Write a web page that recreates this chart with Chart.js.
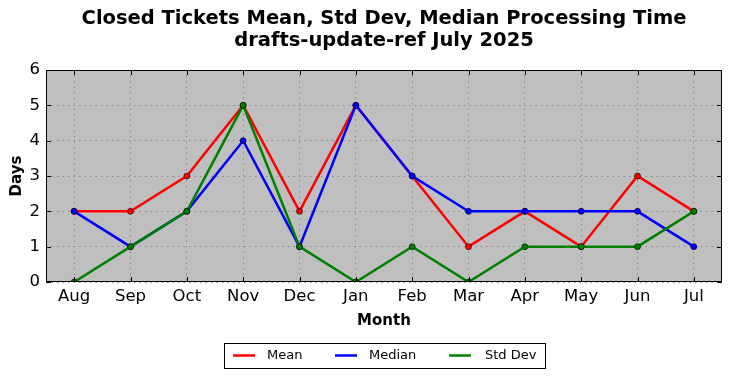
<!DOCTYPE html>
<html>
<head>
<meta charset="utf-8">
<script src="https://cdn.jsdelivr.net/npm/chart.js@4/dist/chart.umd.min.js"></script>
<style>
  html, body { margin: 0; padding: 0; background: #ffffff; }
  #wrap { width: 732px; height: 378px; position: relative; }
</style>
</head>
<body>
<div id="wrap"><canvas id="c" width="732" height="378"></canvas></div>
<script>
const months = ["Aug", "Sep", "Oct", "Nov", "Dec", "Jan", "Feb", "Mar", "Apr", "May", "Jun", "Jul"];
const meanValues = [2, 2, 3, 5, 2, 5, 3, 1, 2, 1, 3, 2];
const medianValues = [2, 1, 2, 4, 1, 5, 3, 2, 2, 2, 2, 1];
const stdDevValues = [0, 1, 2, 5, 1, 0, 1, 0, 1, 1, 1, 2];
const yTicks = [0, 1, 2, 3, 4, 5, 6];
const titleLines = ["Closed Tickets Mean, Std Dev, Median Processing Time", "drafts-update-ref July 2025"];

const FONT = "'DejaVu Sans', sans-serif";

const framePlugin = {
  id: 'framePlugin',
  beforeDraw(chart) {
    const { ctx, chartArea: a } = chart;
    ctx.save();
    ctx.fillStyle = '#ffffff';
    ctx.fillRect(0, 0, chart.width, chart.height);
    ctx.fillStyle = '#bfbfbf';
    ctx.fillRect(a.left, a.top, a.right - a.left, a.bottom - a.top);
    ctx.restore();
  },
  afterDraw(chart) {
    const { ctx, chartArea: a, scales } = chart;
    ctx.save();
    // frame
    ctx.strokeStyle = '#000000';
    ctx.lineWidth = 1;
    ctx.strokeRect(a.left + 0.5, a.top + 0.5, a.right - a.left - 1, a.bottom - a.top - 1);
    // inward ticks
    const L = 5;
    ctx.beginPath();
    months.forEach((m, i) => {
      const x = Math.round(scales.x.getPixelForValue(i)) + 0.5;
      ctx.moveTo(x, a.bottom); ctx.lineTo(x, a.bottom - L);
      ctx.moveTo(x, a.top); ctx.lineTo(x, a.top + L);
    });
    yTicks.forEach(v => {
      const y = Math.round(scales.y.getPixelForValue(v)) + 0.5;
      ctx.moveTo(a.left, y); ctx.lineTo(a.left + L, y);
      ctx.moveTo(a.right, y); ctx.lineTo(a.right - L, y);
    });
    ctx.stroke();

    // title
    ctx.fillStyle = '#000000';
    ctx.font = "bold 19.5px " + FONT;
    ctx.textAlign = 'center';
    ctx.textBaseline = 'middle';
    const cx = (a.left + a.right) / 2;
    ctx.fillText(titleLines[0], cx, 19);
    ctx.fillText(titleLines[1], cx, 41);

    // legend
    const lx = 224.5, ly = 343.5, lw = 321, lh = 25;
    ctx.fillStyle = '#ffffff';
    ctx.fillRect(lx, ly, lw, lh);
    ctx.strokeStyle = '#000000';
    ctx.lineWidth = 1;
    ctx.strokeRect(lx, ly, lw, lh);
    const items = [
      { ds: chart.data.datasets[0], x: 233, tx: 267 },
      { ds: chart.data.datasets[1], x: 335, tx: 369 },
      { ds: chart.data.datasets[2], x: 449, tx: 485 }
    ];
    ctx.font = "13px " + FONT;
    ctx.textAlign = 'left';
    items.forEach(it => {
      ctx.strokeStyle = it.ds.borderColor;
      ctx.lineWidth = 2.5;
      ctx.beginPath();
      ctx.moveTo(it.x, 355.5); ctx.lineTo(it.x + 22, 355.5);
      ctx.stroke();
      ctx.fillStyle = '#000000';
      ctx.fillText(it.ds.label, it.tx, 356);
    });
    ctx.restore();
  }
};

const mk = (label, data, color, order) => ({
  label, data, order,
  borderColor: color,
  backgroundColor: color,
  borderWidth: 2.5,
  pointRadius: 3,
  pointBorderColor: '#000000',
  pointBorderWidth: 0.6,
  pointBackgroundColor: color,
  tension: 0,
  fill: false
});

new Chart(document.getElementById('c'), {
  type: 'line',
  data: {
    labels: months,
    datasets: [
      mk('Mean', meanValues, '#ff0000', 3),
      mk('Median', medianValues, '#0000ff', 2),
      mk('Std Dev', stdDevValues, '#008000', 1)
    ]
  },
  options: {
    responsive: false,
    animation: false,
    devicePixelRatio: 1,
    layout: { padding: { left: 0, right: 10, top: 70, bottom: 0 } },
    plugins: {
      legend: { display: false },
      title: { display: false },
      tooltip: { enabled: false }
    },
    scales: {
      x: {
        type: 'category',
        offset: true,
        grid: {
          color: '#8a8a8a',
          lineWidth: 1,
          drawTicks: false,
          offset: false
        },
        border: { display: false, dash: [1.5, 4] },
        ticks: {
          color: '#000000',
          font: { family: FONT, size: 16.5 },
          padding: 5,
          maxRotation: 0,
          autoSkip: false
        },
        title: {
          display: true,
          text: 'Month',
          color: '#000000',
          font: { family: FONT, size: 15, weight: 'bold' },
          padding: { top: 0, bottom: 48 }
        },
        afterFit(scale) { scale.height = 96; }
      },
      y: {
        min: 0,
        max: 6,
        grid: { color: '#8a8a8a', lineWidth: 1, drawTicks: false },
        border: { display: false, dash: [1.5, 4] },
        afterBuildTicks(scale) { scale.ticks = yTicks.map(v => ({ value: v })); },
        ticks: {
          color: '#000000',
          font: { family: FONT, size: 16.5 },
          padding: 6
        },
        title: {
          display: true,
          text: 'Days',
          color: '#000000',
          font: { family: FONT, size: 15, weight: 'bold' },
          padding: { top: 8, bottom: 0 }
        },
        afterFit(scale) { scale.width = 46; }
      }
    }
  },
  plugins: [framePlugin]
});
</script>
</body>
</html>
